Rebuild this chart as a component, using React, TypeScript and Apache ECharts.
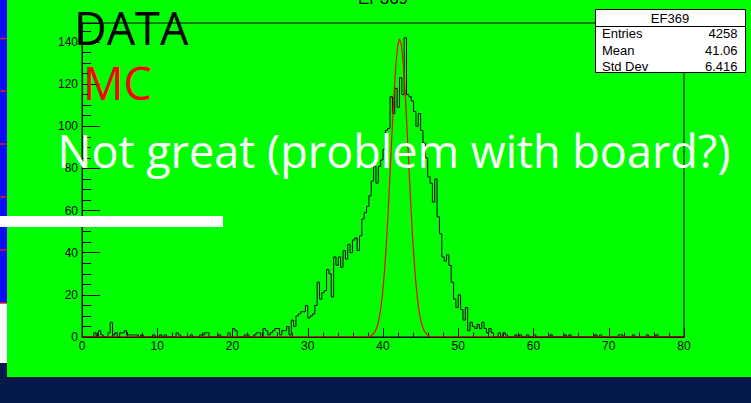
import { useEffect, useRef } from "react";
import * as echarts from "echarts";

// Histogram EF369: 256 bins spanning 0..80
const X_MIN = 0;
const X_MAX = 80;
const HIST_COUNTS: number[] = [
  0, 0, 0, 0, 0, 2, 0, 3, 1, 0, 0, 2, 7, 1, 2, 0,
  2, 2, 3, 1, 1, 1, 1, 1, 0, 1, 0, 0, 0, 0, 1, 0,
  0, 1, 0, 1, 0, 0, 0, 0, 2, 1, 0, 0, 0, 0, 1, 0,
  0, 0, 1, 1, 2, 2, 0, 0, 0, 0, 1, 0, 0, 0, 2, 0,
  4, 3, 0, 0, 0, 1, 1, 0, 0, 1, 2, 2, 0, 4, 3, 1,
  2, 3, 4, 4, 1, 3, 3, 5, 1, 8, 5, 10, 11, 12, 12, 15,
  9, 10, 11, 15, 26, 18, 21, 22, 32, 30, 19, 38, 34, 38, 33, 41,
  37, 44, 40, 46, 47, 41, 48, 56, 59, 62, 67, 74, 81, 73, 81, 84,
  89, 98, 99, 114, 106, 118, 109, 123, 115, 142, 115, 114, 112, 107, 100, 106,
  98, 92, 85, 76, 73, 64, 75, 57, 49, 38, 36, 39, 34, 26, 18, 14,
  20, 13, 8, 14, 3, 7, 5, 4, 6, 4, 7, 4, 2, 4, 2, 0,
  0, 2, 0, 2, 1, 0, 0, 0, 1, 0, 1, 0, 0, 1, 0, 0,
  1, 0, 0, 0, 0, 0, 0, 1, 0, 0, 0, 0, 0, 1, 0, 1,
  0, 0, 0, 0, 0, 0, 0, 0, 0, 0, 1, 0, 1, 0, 0, 0,
  0, 0, 0, 0, 1, 1, 0, 0, 0, 0, 1, 0, 0, 0, 0, 0,
  1, 0, 0, 0, 1, 0, 0, 0, 0, 0, 0, 0, 0, 0, 0, 0,
];

// MC expectation curve (x, count)
const MC_X: number[] = [
  0, 38.2, 38.45, 38.7, 38.95, 39.2, 39.45, 39.7, 39.95, 40.2, 40.45, 40.7,
  40.95, 41.2, 41.45, 41.7, 41.95, 42.2, 42.45, 42.7, 42.95, 43.2, 43.45,
  43.7, 43.95, 44.2, 44.45, 44.7, 44.95, 45.2, 45.45, 45.7, 45.95, 46.2,
  46.45, 80,
];
const MC_Y: number[] = [
  0, 0, 0.7, 1.4, 2.6, 4.7, 8.1, 13.3, 20.9, 31.2, 44.5, 60.4,
  78.4, 96.9, 114.4, 128.7, 138.2, 141.5, 138.5, 129.5, 115.5, 98.5, 80.5,
  62.5, 46.5, 33, 22.5, 14.5, 9, 5.5, 3.2, 1.8, 1, 0.4,
  0, 0,
];

const Y_MAX = 149;
const X_TICK_STEP = 10;
const Y_TICK_STEP = 20;

const STATS_TITLE = "EF369";
const STATS_LABELS = ["Entries", "Mean", "Std Dev"];
const STATS_VALUES = ["4258", "41.06", "6.416"];

const ROOT_FONT = "'Liberation Sans', Arial, sans-serif";
const SLIDE_FONT = "'Open Sans', 'Noto Sans', sans-serif";

function buildOption() {
  const binWidth = (X_MAX - X_MIN) / HIST_COUNTS.length;
  const histData: number[][] = HIST_COUNTS.map((c, i) => [X_MIN + i * binWidth, c]);
  histData.push([X_MAX, HIST_COUNTS[HIST_COUNTS.length - 1]]);
  const mcData = MC_X.map((x, i) => [x, MC_Y[i]]);

  const statsRowY = [33.8, 50.3, 66.2];
  const stripLines = [38.5, 91, 144, 197, 250, 303];

  const graphic: any[] = [
    // slide pieces behind the canvas
    { type: "rect", z: -20, silent: true, shape: { x: 0, y: 0, width: 7, height: 303 }, style: { fill: "#0c0cf8" } },
    { type: "rect", z: -20, silent: true, shape: { x: 0, y: 303, width: 7, height: 60 }, style: { fill: "#ffffff" } },
    ...stripLines.map((y) => ({
      type: "line", z: -19, silent: true,
      shape: { x1: 0, y1: y, x2: 7, y2: y },
      style: { stroke: "#c8202a", lineWidth: 1.5 },
    })),
    // ROOT canvas
    { type: "rect", z: -10, silent: true, shape: { x: 7, y: 0, width: 744, height: 377 }, style: { fill: "#00ff00" } },
    // histogram title (clipped at the top)
    {
      type: "text", z: 50, silent: true, x: 383, y: -2,
      style: { text: "EF369", fill: "#000", font: `17px ${ROOT_FONT}`, textAlign: "center", textVerticalAlign: "middle" },
    },
    // stats box
    {
      type: "rect", z: 60, silent: true,
      shape: { x: 595.5, y: 9.5, width: 150, height: 63 },
      style: { fill: "#ffffff", stroke: "#000", lineWidth: 1 },
    },
    {
      type: "line", z: 61, silent: true,
      shape: { x1: 595.5, y1: 26.5, x2: 745.5, y2: 26.5 },
      style: { stroke: "#000", lineWidth: 1 },
    },
    {
      type: "text", z: 62, silent: true, x: 670, y: 18,
      style: { text: STATS_TITLE, fill: "#000", font: `13px ${ROOT_FONT}`, textAlign: "center", textVerticalAlign: "middle" },
    },
    ...STATS_LABELS.map((t, i) => ({
      type: "text", z: 62, silent: true, x: 602, y: statsRowY[i],
      style: { text: t, fill: "#000", font: `13px ${ROOT_FONT}`, textAlign: "left", textVerticalAlign: "middle" },
    })),
    ...STATS_VALUES.map((t, i) => ({
      type: "text", z: 62, silent: true, x: 737.5, y: statsRowY[i],
      style: { text: t, fill: "#000", font: `13px ${ROOT_FONT}`, textAlign: "right", textVerticalAlign: "middle" },
    })),
    // slide annotations
    { type: "rect", z: 80, silent: true, shape: { x: 0, y: 216, width: 223, height: 11 }, style: { fill: "#ffffff" } },
    {
      type: "text", z: 90, silent: true, x: 74, y: 27.5,
      style: { text: "DATA", fill: "#000000", font: `45px ${SLIDE_FONT}`, textAlign: "left", textVerticalAlign: "middle" },
    },
    {
      type: "text", z: 90, silent: true, x: 83, y: 82.5,
      style: { text: "MC", fill: "#ff0000", font: `45px ${SLIDE_FONT}`, textAlign: "left", textVerticalAlign: "middle" },
    },
    {
      type: "text", z: 90, silent: true, x: 57.5, y: 150.5,
      style: { text: "Not great (problem with board?)", fill: "#ffffff", font: `45px ${SLIDE_FONT}`, textAlign: "left", textVerticalAlign: "middle" },
    },
  ];

  return {
    animation: false,
    backgroundColor: "#03194a",
    grid: {
      left: 82, right: 67, top: 23, bottom: 66,
      show: true, borderColor: "#000", borderWidth: 1, backgroundColor: "transparent",
    },
    xAxis: {
      type: "value", min: X_MIN, max: X_MAX, interval: X_TICK_STEP,
      axisLine: { show: true, lineStyle: { color: "#000", width: 1 } },
      axisTick: { show: true, inside: true, length: 9, lineStyle: { color: "#000", width: 1 } },
      minorTick: { show: true, splitNumber: 5, length: 4.5, lineStyle: { color: "#000", width: 1 } },
      splitLine: { show: false },
      axisLabel: { color: "#000", fontFamily: ROOT_FONT, fontSize: 12, margin: 3 },
    },
    yAxis: {
      type: "value", min: 0, max: Y_MAX, interval: Y_TICK_STEP,
      axisLine: { show: true, lineStyle: { color: "#000", width: 1 } },
      axisTick: { show: true, inside: true, length: 18, lineStyle: { color: "#000", width: 1 } },
      minorTick: { show: true, splitNumber: 4, length: 9, lineStyle: { color: "#000", width: 1 } },
      splitLine: { show: false },
      axisLabel: {
        color: "#000", fontFamily: ROOT_FONT, fontSize: 12, margin: 4, showMaxLabel: false,
        formatter: (v: number) => (v % Y_TICK_STEP === 0 ? String(v) : ""),
      },
    },
    series: [
      {
        name: "DATA", type: "line", step: "end", data: histData, symbol: "none", z: 3,
        lineStyle: { color: "#000", width: 1 }, silent: true,
      },
      {
        name: "MC", type: "line", data: mcData, symbol: "none", z: 4,
        lineStyle: { color: "#ff0000", width: 1.2 }, silent: true,
      },
    ],
    graphic,
  };
}

export default function App() {
  const ref = useRef<HTMLDivElement>(null);
  useEffect(() => {
    if (!ref.current) return;
    const chart = echarts.init(ref.current, null, { renderer: "svg" });
    chart.setOption(buildOption() as any);
    return () => chart.dispose();
  }, []);
  return (
    <div
      ref={ref}
      style={{ position: "fixed", left: 0, top: 0, width: 751, height: 403 }}
    />
  );
}
